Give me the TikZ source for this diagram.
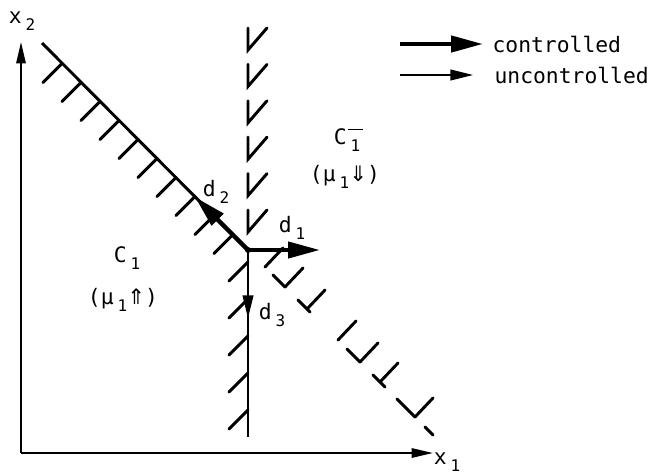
\documentclass[tikz,border=0pt]{standalone}
\usepackage{fontspec}
\usetikzlibrary{arrows.meta, positioning}
\newfontfamily\plotfont{DejaVu Sans Mono}
\newfontfamily\arrfont{DejaVu Sans}
\newcommand{\lsub}[1]{\hspace{3pt}\raisebox{-0.6ex}{\fontsize{12}{12}\selectfont #1}}
\newcommand{\barone}{\makebox[0pt][l]{\hspace{-2pt}\raisebox{2.4ex}{\rule{11pt}{0.7pt}}}1}

\begin{document}
\begin{tikzpicture}[
    x=0.75pt, y=-0.75pt,
    axis/.style={line width=1.4pt, -{Triangle[length=16pt, width=7pt]}},
    bound/.style={line width=2.2pt},
    hatch/.style={line width=2.2pt, line cap=round},
    ctrl/.style={line width=3.2pt, -{Triangle[length=24pt, width=12pt]}},
    unctrl/.style={line width=1.4pt, -{Triangle[length=17pt, width=8pt]}},
    lbl/.style={font=\fontsize{16}{18}\selectfont\plotfont, inner sep=0pt}
]
\useasboundingbox (0,0) rectangle (650,475);

% axes
\coordinate (orig) at (21,453);
\coordinate (xtop) at (21,42);
\coordinate (xright) at (433,453);
\draw[axis] (orig) -- (xtop);
\draw[axis] (orig) -- (xright);
\node[lbl] (lx2) at (22,21) {x\lsub{2}};
\node[lbl] (lx1) at (447,462) {x\lsub{1}};

% switching point and boundaries
\coordinate (o) at (248,250);
\coordinate (ul) at (42,43);
\coordinate (vbot) at (248,437);
\draw[bound] (ul) -- (o);
\draw[bound] (o) -- (vbot);
\foreach \x in {62,81,...,233}
    \draw[hatch] (\x,{\x+1.5}) -- ++(-19,19);
\foreach \y in {262,299,336,373,410}
    \draw[hatch] (248,\y) -- ++(-19,19);

% dashed boundaries of C1-
\foreach \k in {0,...,5}
    \draw[hatch, line join=miter] (248,{28+36.4*\k}) -- (248,{50+36.4*\k}) -- ++(19,-22);
\foreach \a/\b in {273/285, 298/310, 347/360, 373/385, 397/415, 425/433}
    \draw[hatch] (\a,{\a+2}) -- (\b,{\b+2});
\foreach \t in {265,285,307,338,360,380,415}
    \draw[hatch] (\t,{\t+2}) -- ++(18,-19);

% directions
\coordinate (d1tip) at (320,250);
\coordinate (d2tip) at (195,197);
\coordinate (d3tip) at (248,318);
\draw[ctrl] (o) -- (d1tip);
\draw[ctrl] (o) -- (d2tip);
\draw[unctrl] (o) -- (d3tip);
\fill (o) circle (3);
\node[lbl] (ld1) at (292,228) {d\lsub{1}};
\node[lbl] (ld2) at (216,192) {d\lsub{2}};
\node[lbl] (ld3) at (272,315) {d\lsub{3}};

% regions
\node[lbl] (lc1) at (127,258) {C\lsub{1}};
\node[lbl] (lm1) at (123,300) {(μ\lsub{1}{\arrfont ⇑})};
\node[lbl] (lc1m) at (347,140) {C\lsub{\barone}};
\node[lbl] (lm1m) at (345,177) {(μ\lsub{1}{\arrfont ⇓})};

% legend
\coordinate (c0) at (400,44);
\coordinate (c1) at (483,44);
\coordinate (u0) at (400,75);
\coordinate (u1) at (473,75);
\draw[ctrl] (c0) -- (c1);
\draw[unctrl] (u0) -- (u1);
\node[lbl, anchor=west, right=7pt of c1] (lctrl) {controlled};
\node[lbl, anchor=west, right=16pt of u1] (lunc) {uncontrolled};
\end{tikzpicture}
\end{document}
